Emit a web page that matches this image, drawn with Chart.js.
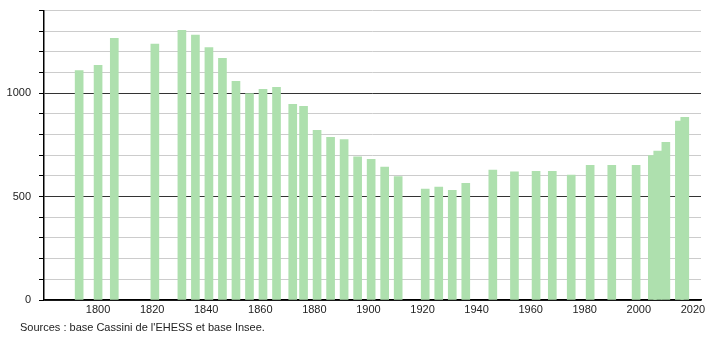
<!DOCTYPE html>
<html>
<head>
<meta charset="utf-8">
<script src="https://cdn.jsdelivr.net/npm/chart.js@4/dist/chart.umd.min.js"></script>
<style>
  html, body { margin: 0; padding: 0; background: #fff; overflow: hidden; }
  #wrap { position: relative; width: 710px; height: 340px; overflow: hidden; }
  #pop { position: absolute; left: 0; top: -4px; }
  #source {
    position: absolute; left: 20px; top: 321px;
    font: 11px "Liberation Sans", Arial, sans-serif; color: #222;
  }
</style>
</head>
<body>
<div id="wrap">
  <canvas id="pop" width="710" height="344"></canvas>
  <div id="source">Sources : base Cassini de l'EHESS et base Insee.</div>
</div>
<script>
// census years and population
const years = [1793, 1800, 1806, 1821, 1831, 1836, 1841, 1846, 1851, 1856, 1861, 1866,
  1872, 1876, 1881, 1886, 1891, 1896, 1901, 1906, 1911, 1921, 1926, 1931, 1936,
  1946, 1954, 1962, 1968, 1975, 1982, 1990, 1999, 2005, 2007, 2010, 2015, 2017];
const population = [1110, 1135, 1266, 1238, 1304, 1282, 1221, 1169, 1058, 998, 1019, 1029,
  947, 937, 821, 787, 776, 692, 681, 643, 597, 536, 546, 531, 564,
  628, 620, 623, 623, 604, 652, 652, 652, 699, 720, 763, 866, 884];
const xTicks = [1800, 1820, 1840, 1860, 1880, 1900, 1920, 1940, 1960, 1980, 2000, 2020];
const yLabels = [0, 500, 1000];

const font = { family: 'Liberation Sans', size: 11 };

new Chart(document.getElementById('pop'), {
  type: 'bar',
  data: {
    datasets: [{
      data: years.map((y, i) => ({ x: y, y: population[i] })),
      backgroundColor: '#aee0ae',
      borderWidth: 0,
      barThickness: 8
    }]
  },
  options: {
    responsive: false,
    animation: false,
    layout: { padding: { top: 6, right: 9, left: 0, bottom: 0 } },
    plugins: { legend: { display: false }, tooltip: { enabled: false } },
    scales: {
      x: {
        type: 'linear',
        offset: false,
        min: 1780,
        max: 2023,
        afterBuildTicks: s => { s.ticks = xTicks.map(v => ({ value: v })); },
        afterFit: s => { s.height = 40; },
        grid: { display: false, drawTicks: false },
        border: { color: '#000', width: 1.5 },
        ticks: {
          color: '#222', font: font, padding: 3, maxRotation: 0, autoSkip: false,
          callback: v => String(v)
        }
      },
      y: {
        min: 0,
        max: 1400,
        afterFit: s => { s.width = 44; },
        border: { color: '#000', width: 1.5 },
        grid: {
          color: c => (c.tick.value % 500 === 0 ? '#333' : '#ccc'),
          tickColor: '#000',
          tickLength: 5
        },
        ticks: {
          stepSize: 100,
          color: '#222',
          font: font,
          padding: 8,
          callback: v => (yLabels.includes(v) ? String(v) : '')
        }
      }
    }
  }
});
</script>
</body>
</html>
